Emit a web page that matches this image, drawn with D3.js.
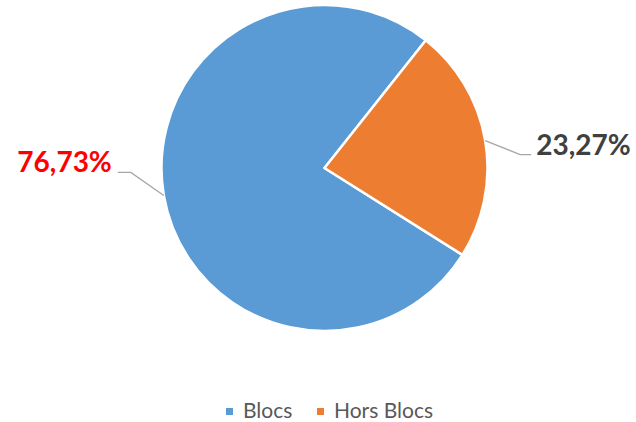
<!DOCTYPE html>
<html>
<head>
<meta charset="utf-8">
<script src="https://cdn.jsdelivr.net/npm/d3@7"></script>
<style>
  body { margin: 0; background: #fff; }
</style>
</head>
<body>
<div id="chart"></div>
<script>
// pie chart: Blocs vs Hors Blocs
const categories = ["Blocs", "Hors Blocs"];
const values = [76.73, 23.27];
const labels = ["76,73%", "23,27%"];
const colors = ["#5B9BD5", "#ED7D31"];
const labelColors = ["#FF0000", "#404040"];

const width = 636,
  height = 422,
  cx = 324.5,
  cy = 168,
  radius = 163,
  startDeg = 122.2; // first slice starts here (clockwise from 12 o'clock)

const data = categories.map((c, i) => ({name: c, value: values[i], label: labels[i]}));

const pie = d3.pie()
  .value(d => d.value)
  .sort(null)
  .startAngle(startDeg * Math.PI / 180)
  .endAngle((startDeg + 360) * Math.PI / 180);
const arcs = pie(data);
const arc = d3.arc().innerRadius(0).outerRadius(radius);
const outer = d3.arc().innerRadius(radius).outerRadius(radius);

const svg = d3.select("#chart")
  .append("svg")
  .attr("width", width)
  .attr("height", height)
  .style("font-family", "Lato, 'Open Sans', sans-serif");

const g = svg.append("g").attr("transform", `translate(${cx},${cy})`);

g.append("g")
  .attr("stroke", "white")
  .attr("stroke-width", 2.5)
  .attr("stroke-linejoin", "round")
  .selectAll("path")
  .data(arcs)
  .join("path")
  .attr("fill", (d, i) => colors[i])
  .attr("d", arc);

// leader lines: from slice edge to an elbow, then short horizontal
const elbow = [[-33, -23], [35, 14]];
const tail = [-13, 11];

g.append("g")
  .attr("fill", "none")
  .attr("stroke", "#A6A6A6")
  .attr("stroke-width", 1.3)
  .selectAll("polyline")
  .data(arcs)
  .join("polyline")
  .attr("points", (d, i) => {
    const [x0, y0] = outer.centroid(d);
    const x1 = x0 + elbow[i][0], y1 = y0 + elbow[i][1];
    return [[x0, y0], [x1, y1], [x1 + tail[i], y1]];
  });

g.append("g")
  .attr("font-size", 28)
  .attr("font-weight", "bold")
  .selectAll("text")
  .data(arcs)
  .join("text")
  .attr("fill", (d, i) => labelColors[i])
  .attr("text-anchor", (d, i) => i ? "start" : "end")
  .attr("x", (d, i) => {
    const [x0] = outer.centroid(d);
    return x0 + elbow[i][0] + tail[i] + (i ? 5 : -6);
  })
  .attr("y", (d, i) => {
    const [, y0] = outer.centroid(d);
    return y0 + elbow[i][1] + 0;
  })
  .text(d => d.data.label);

// legend
const legend = svg.append("g")
  .attr("transform", "translate(226,418)")
  .attr("font-size", 21)
  .attr("fill", "#595959");

const legendX = [0, 91];
const item = legend.selectAll("g")
  .data(categories)
  .join("g")
  .attr("transform", (d, i) => `translate(${legendX[i]},0)`);

item.append("rect")
  .attr("x", 0)
  .attr("y", -10)
  .attr("width", 7)
  .attr("height", 7)
  .attr("fill", (d, i) => colors[i]);

item.append("text")
  .attr("x", 17)
  .attr("y", 0)
  .text(d => d);
</script>
</body>
</html>
